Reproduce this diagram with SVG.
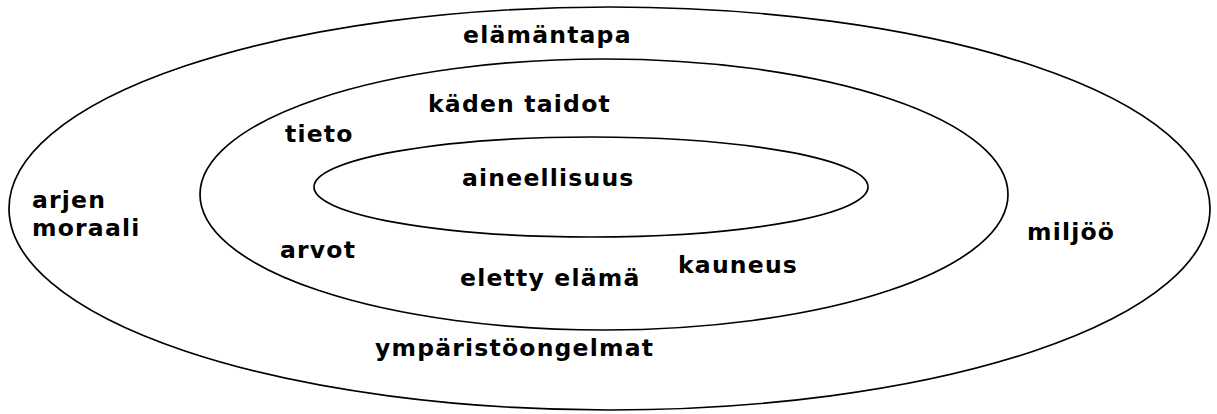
<svg xmlns="http://www.w3.org/2000/svg" width="1217" height="414" viewBox="0 0 1217 414">
<style>
.ring{fill:none;stroke:#000;stroke-width:1.7}
.lbl{font-family:"DejaVu Sans","Liberation Sans",sans-serif;font-weight:bold;font-size:23.5px;letter-spacing:1.2px;fill:#000}
</style>
<rect width="1217" height="414" fill="#fff"/>
<g id="outer">
<ellipse class="ring" cx="609.5" cy="208.5" rx="600.5" ry="201.5"/>
<text class="lbl" x="463" y="43">elämäntapa</text>
<text class="lbl" x="32" y="208">arjen</text>
<text class="lbl" x="32" y="236">moraali</text>
<text class="lbl" x="1027" y="240">miljöö</text>
<text class="lbl" x="375" y="356">ympäristöongelmat</text>
</g>
<g id="middle">
<ellipse class="ring" cx="604" cy="194.5" rx="404" ry="135.5"/>
<text class="lbl" x="428" y="112">käden taidot</text>
<text class="lbl" x="285" y="142">tieto</text>
<text class="lbl" x="280" y="258">arvot</text>
<text class="lbl" x="678" y="273">kauneus</text>
<text class="lbl" x="460" y="286">eletty elämä</text>
</g>
<g id="inner">
<ellipse class="ring" cx="591" cy="187" rx="277" ry="50"/>
<text class="lbl" x="462" y="186">aineellisuus</text>
</g>
<g id="connectors"></g>
</svg>
